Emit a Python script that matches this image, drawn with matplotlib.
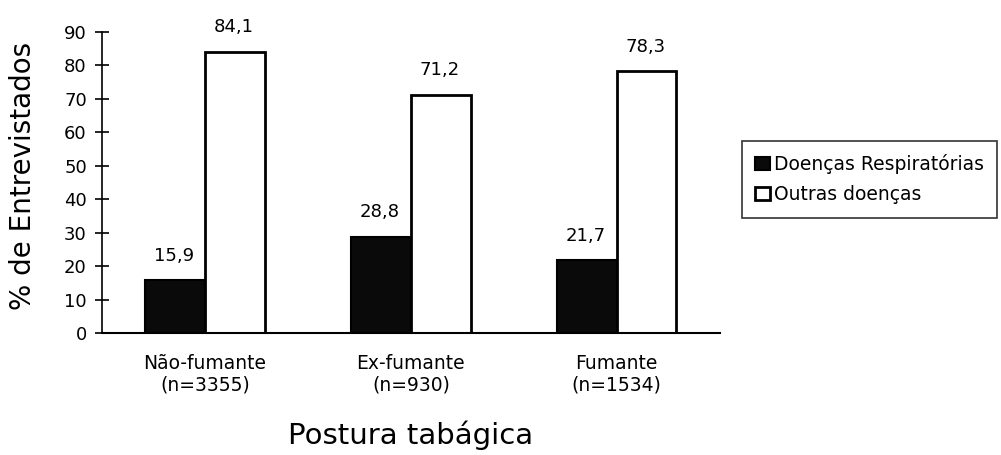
import numpy as np
import matplotlib.pyplot as plt

plt.rcParams['font.family'] = ['DejaVu Sans']

# dados
categorias = ['Não-fumante\n(n=3355)', 'Ex-fumante\n(n=930)', 'Fumante\n(n=1534)']
respiratorias = [15.9, 28.8, 21.7]
outras = [84.1, 71.2, 78.3]
rotulos_resp = ['15,9', '28,8', '21,7']
rotulos_outras = ['84,1', '71,2', '78,3']

x = np.arange(len(categorias))
w = 0.29

fig = plt.figure(figsize=(10.01, 4.55), dpi=100)
ax = fig.add_axes([0.102, 0.268, 0.617, 0.662])

b1 = ax.bar(x - w/2, respiratorias, w, color='#0a0a0a', edgecolor='black',
            linewidth=1.5, label='Doenças Respiratórias')
b2 = ax.bar(x + w/2, outras, w, color='white', edgecolor='black',
            linewidth=2, label='Outras doenças')

for bars, labs in [(b1, rotulos_resp), (b2, rotulos_outras)]:
    for b, t in zip(bars, labs):
        ax.annotate(t, (b.get_x() + b.get_width()/2, b.get_height()),
                    xytext=(-1, 11), textcoords='offset points',
                    ha='center', va='bottom', fontsize=13)

ax.set_xlim(-0.5, 2.5)
ax.set_ylim(0, 90)
ax.set_yticks(range(0, 91, 10))
ax.set_xticks(x)
ax.set_xticklabels(categorias, fontsize=13.5, linespacing=1.15)
ax.tick_params(axis='x', length=0, pad=15)
ax.tick_params(axis='y', direction='inout', length=10, width=1.2,
               labelsize=13, pad=6)
ax.spines['top'].set_visible(False)
ax.spines['right'].set_visible(False)
ax.spines['left'].set_linewidth(1.2)
ax.spines['bottom'].set_linewidth(1.5)

ax.set_ylabel('% de Entrevistados', fontsize=20)
ax.yaxis.set_label_coords(-0.105, 0.52)
ax.set_xlabel('Postura tabágica', fontsize=21, labelpad=19)

leg = fig.legend(loc='upper left', bbox_to_anchor=(0.741, 0.69),
                 fontsize=13.5, frameon=True, fancybox=False,
                 handlelength=0.8, handleheight=0.7, handletextpad=0.2,
                 borderpad=0.7, labelspacing=0.6, borderaxespad=0)
leg.get_frame().set_edgecolor('black')
leg.get_frame().set_linewidth(1.2)

fig.savefig('out.png', dpi=100)
